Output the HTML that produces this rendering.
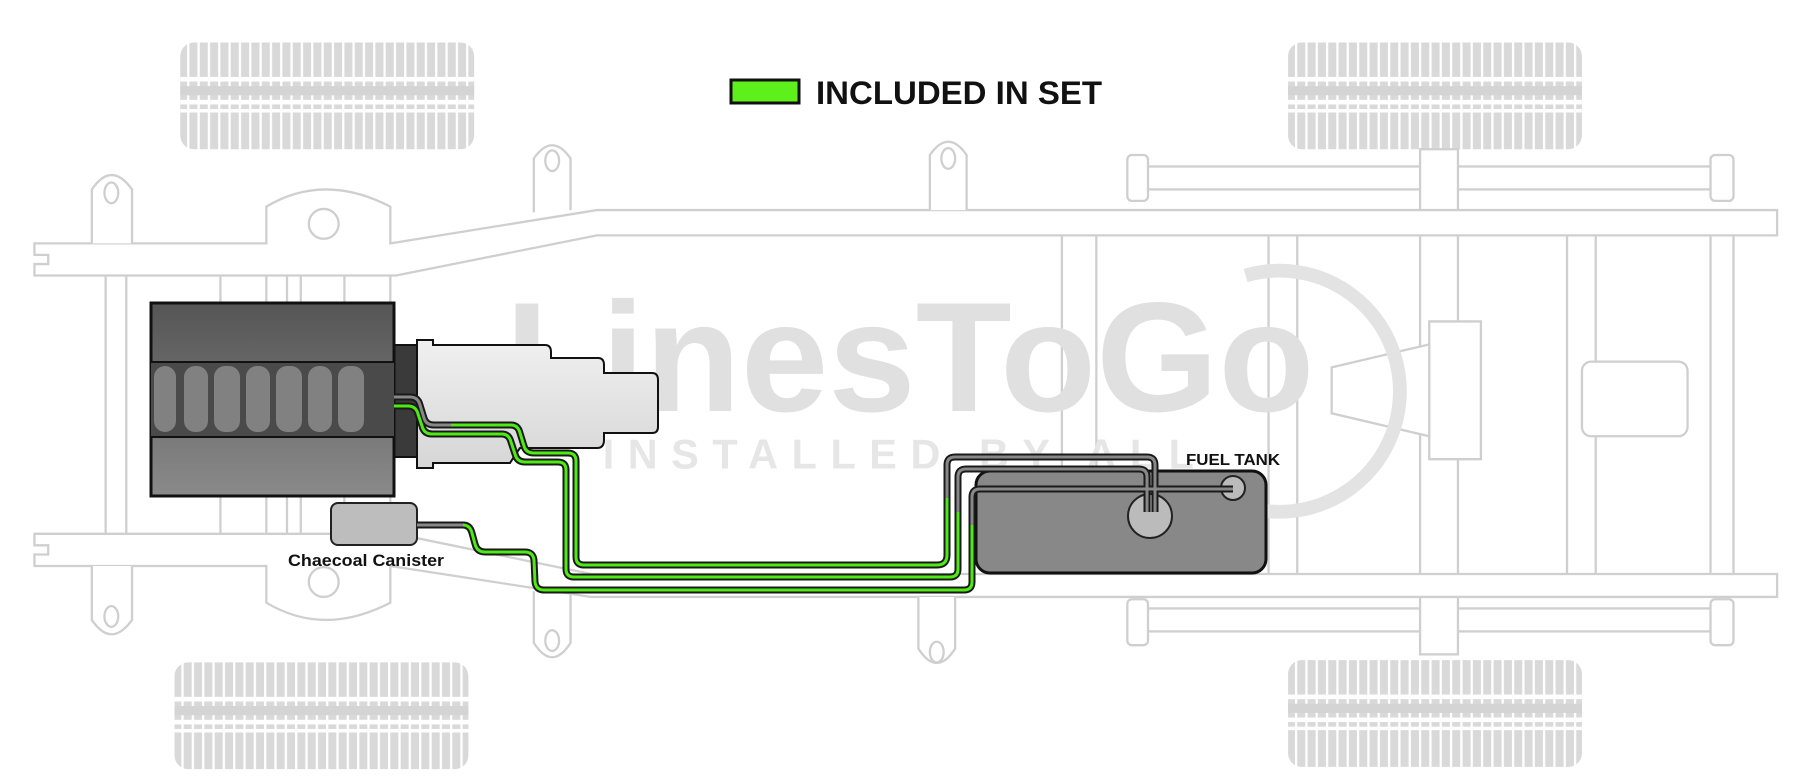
<!DOCTYPE html>
<html><head><meta charset="utf-8"><style>html,body{margin:0;padding:0;background:#fff}svg{display:block}</style></head><body>
<svg width="1800" height="784" viewBox="0 0 1800 784" xmlns="http://www.w3.org/2000/svg">
<defs>
<pattern id="rib" width="9" height="10" patternUnits="userSpaceOnUse"><rect width="9" height="10" fill="#d9d9d9"/><rect x="6" width="2" height="10" fill="#fff"/></pattern>
<linearGradient id="eg" x1="0" y1="0" x2="0" y2="1"><stop offset="0" stop-color="#555"/><stop offset="1" stop-color="#8a8a8a"/></linearGradient>
<linearGradient id="tg" x1="0" y1="0" x2="0" y2="1"><stop offset="0" stop-color="#f0f0f0"/><stop offset="1" stop-color="#d6d6d6"/></linearGradient>
<g id="tire">
<rect x="0" y="0" width="256" height="93" rx="12" fill="url(#rib)"/>
<rect x="0" y="30" width="256" height="4" fill="#fff"/>
<rect x="0" y="38" width="256" height="8" fill="#d4d4d4"/>
<rect x="0" y="50" width="256" height="4" fill="#fff"/>
<rect x="0" y="58" width="256" height="3" fill="#fff"/>
</g>
</defs>
<g transform="scale(1.148)" fill="#fff" stroke="#cfcfcf" stroke-width="2">
<!-- tires -->
<use href="#tire" x="157" y="37" stroke="none"/>
<use href="#tire" x="152" y="577" stroke="none"/>
<use href="#tire" x="1122" y="37" stroke="none"/>
<use href="#tire" x="1122" y="575" stroke="none"/>
<!-- crossmembers -->
<rect x="92" y="238" width="18" height="230"/>
<rect x="192" y="238" width="40" height="230"/>
<rect x="250" y="238" width="12" height="230"/>
<rect x="300" y="238" width="40" height="230"/>
<rect x="925" y="200" width="30" height="302"/>
<rect x="1105" y="200" width="25" height="302"/>
<rect x="1365" y="203" width="25" height="300"/>
<rect x="1490" y="203" width="20" height="300"/>
<!-- rear axle assemblies -->
<rect x="985" y="145" width="520" height="20"/>
<rect x="985" y="530" width="520" height="20"/>
<rect x="982" y="135" width="18" height="40" rx="4"/>
<rect x="1490" y="135" width="20" height="40" rx="4"/>
<rect x="982" y="522" width="18" height="40" rx="4"/>
<rect x="1490" y="522" width="20" height="40" rx="4"/>
<rect x="1237" y="130" width="33" height="440"/>
<path d="M1245 280 L1290 280 L1290 400 L1245 400 Z"/>
<path d="M1160 320 L1245 300 L1245 380 L1160 360 Z"/>
<rect x="1378" y="315" width="92" height="65" rx="8"/>
<!-- rails -->
<path d="M30 212 L232 212 L232 180 Q282 150 340 180 L340 212 L520 183 L1548 183 L1548 205 L1285 205 L520 205 L345 240 L30 240 L30 230 L42 230 L42 222 L30 222 Z"/>
<path d="M30 465 L345 465 L515 500 L1548 500 L1548 520 L515 520 L340 493 L340 525 Q282 555 232 525 L232 493 L30 493 L30 483 L42 483 L42 475 L30 475 Z"/>
<circle cx="282" cy="195" r="13"/>
<circle cx="282" cy="507" r="13"/>
<!-- tabs -->
<path d="M80 212 L80 165 Q97 140 115 165 L115 212"/><ellipse cx="97" cy="168" rx="6" ry="9"/>
<path d="M465 185 L465 138 Q481 115 497 138 L497 183"/><ellipse cx="481" cy="140" rx="6" ry="9"/>
<path d="M810 183 L810 135 Q826 112 842 135 L842 183"/><ellipse cx="826" cy="138" rx="6" ry="9"/>
<path d="M80 493 L80 540 Q97 565 115 540 L115 493"/><ellipse cx="97" cy="537" rx="6" ry="9"/>
<path d="M465 515 L465 560 Q481 585 497 560 L497 518"/><ellipse cx="481" cy="558" rx="6" ry="9"/>
<path d="M800 520 L800 565 Q816 590 832 565 L832 520"/><ellipse cx="816" cy="568" rx="6" ry="9"/>
</g>
<!-- watermark -->
<g transform="scale(1.148)">
<path d="M1085 240 A105 105 0 1 1 1080 440" fill="none" stroke="#e3e3e3" stroke-width="12"/>
<text x="440" y="358" font-family="Liberation Sans, sans-serif" font-weight="bold" font-size="136" fill="#e0e0e0" textLength="705" lengthAdjust="spacingAndGlyphs">LinesToGo</text>
<text x="525" y="408" font-family="Liberation Sans, sans-serif" font-weight="bold" font-size="36" fill="#e6e6e6" textLength="515" lengthAdjust="spacing">INSTALLED BY ALL</text>
</g>
<!-- legend -->
<rect x="731" y="80" width="68" height="23" fill="#5ef01a" stroke="#111" stroke-width="3"/>
<text x="816" y="104" font-family="Liberation Sans, sans-serif" font-weight="bold" font-size="32" fill="#111" textLength="286" lengthAdjust="spacingAndGlyphs">INCLUDED IN SET</text>
<!-- engine -->
<rect x="394" y="345" width="25" height="112" fill="#3a3a3a" stroke="#111" stroke-width="2"/>
<rect x="151" y="303" width="243" height="193" fill="url(#eg)" stroke="#111" stroke-width="3"/>
<rect x="151" y="362" width="243" height="75" fill="#4a4a4a"/>
<g fill="#888" opacity="0.9">
<rect x="154" y="366" width="22" height="66" rx="11"/><rect x="184" y="366" width="24" height="66" rx="11"/>
<rect x="214" y="366" width="26" height="66" rx="11"/><rect x="246" y="366" width="24" height="66" rx="11"/>
<rect x="276" y="366" width="26" height="66" rx="11"/><rect x="308" y="366" width="24" height="66" rx="11"/>
<rect x="338" y="366" width="26" height="66" rx="11"/>
</g>
<line x1="151" y1="362" x2="394" y2="362" stroke="#111" stroke-width="2"/>
<line x1="151" y1="437" x2="394" y2="437" stroke="#111" stroke-width="2"/>
<!-- transmission -->
<path d="M417 340 L433 340 L433 345 L545 345 Q551 345 551 352 L551 358 L598 358 Q604 358 604 365 L604 373 L652 373 Q658 373 658 380 L658 427 Q658 433 652 433 L604 433 L604 440 Q604 448 597 448 L520 448 Q515 455 510 463 L433 463 L433 468 L417 468 Z" fill="url(#tg)" stroke="#111" stroke-width="2"/>
<!-- canister -->
<rect x="331" y="503" width="86" height="42" rx="7" fill="#bdbdbd" stroke="#222" stroke-width="2"/>
<text x="288" y="566" font-family="Liberation Sans, sans-serif" font-weight="bold" font-size="17" fill="#111" textLength="156" lengthAdjust="spacingAndGlyphs">Chaecoal Canister</text>
<!-- tank -->
<rect x="976" y="471" width="290" height="102" rx="14" fill="#888" stroke="#111" stroke-width="3"/>
<circle cx="1150" cy="516" r="22" fill="#bbb" stroke="#222" stroke-width="2"/>
<circle cx="1233" cy="488" r="12" fill="#bbb" stroke="#222" stroke-width="2"/>
<text x="1186" y="465" font-family="Liberation Sans, sans-serif" font-weight="bold" font-size="16" fill="#111" textLength="94" lengthAdjust="spacingAndGlyphs">FUEL TANK</text>
<!-- pipes -->
<g fill="none" stroke-linejoin="round" stroke-linecap="butt">
<g stroke="#1a1a1a" stroke-width="7">
<path d="M394 397 L410 397 Q418 397 420 405 L424 418 Q426 425 434 425 L511 425 Q518 425 520 433 L524 446 Q526 453 534 453 L568 453 Q576 453 576 461 L576 557 Q576 565 584 565 L937 565 Q947 565 947 555 L947 465 Q947 457 955 457 L1147 457 Q1155 457 1155 465 L1155 512"/>
<path d="M394 406 L408 406 Q416 406 418 414 L422 426 Q424 434 432 434 L502 434 Q509 434 511 442 L515 454 Q517 462 525 462 L558 462 Q566 462 566 470 L566 569 Q566 577 574 577 L950 577 Q958 577 958 569 L958 477 Q958 469 966 469 L1139 469 Q1147 469 1147 477 L1147 512"/>
<path d="M417 525 L463 525 Q470 525 472 533 L475 544 Q477 552 485 552 L525 552 Q533 552 534 560 L535 582 Q536 590 544 590 L964 590 Q972 590 972 582 L972 497 Q972 489 980 489 L1233 489"/>
</g>
<g stroke="#888" stroke-width="3">
<path d="M394 397 L410 397 Q418 397 420 405 L424 418 Q426 425 434 425 L451 425"/>
<path d="M947 498 L947 465 Q947 457 955 457 L1147 457 Q1155 457 1155 465 L1155 512"/>
<path d="M958 512 L958 477 Q958 469 966 469 L1139 469 Q1147 469 1147 477 L1147 512"/>
<path d="M417 525 L463 525"/>
<path d="M972 525 L972 497 Q972 489 980 489 L1233 489"/>
</g>
<g stroke="#4eea14" stroke-width="3">
<path d="M451 425 L511 425 Q518 425 520 433 L524 446 Q526 453 534 453 L568 453 Q576 453 576 461 L576 557 Q576 565 584 565 L937 565 Q947 565 947 555 L947 498"/>
<path d="M394 406 L408 406 Q416 406 418 414 L422 426 Q424 434 432 434 L502 434 Q509 434 511 442 L515 454 Q517 462 525 462 L558 462 Q566 462 566 470 L566 569 Q566 577 574 577 L950 577 Q958 577 958 569 L958 512"/>
<path d="M463 525 Q470 525 472 533 L475 544 Q477 552 485 552 L525 552 Q533 552 534 560 L535 582 Q536 590 544 590 L964 590 Q972 590 972 582 L972 525"/>
</g>
</g>
</svg>
</body></html>
